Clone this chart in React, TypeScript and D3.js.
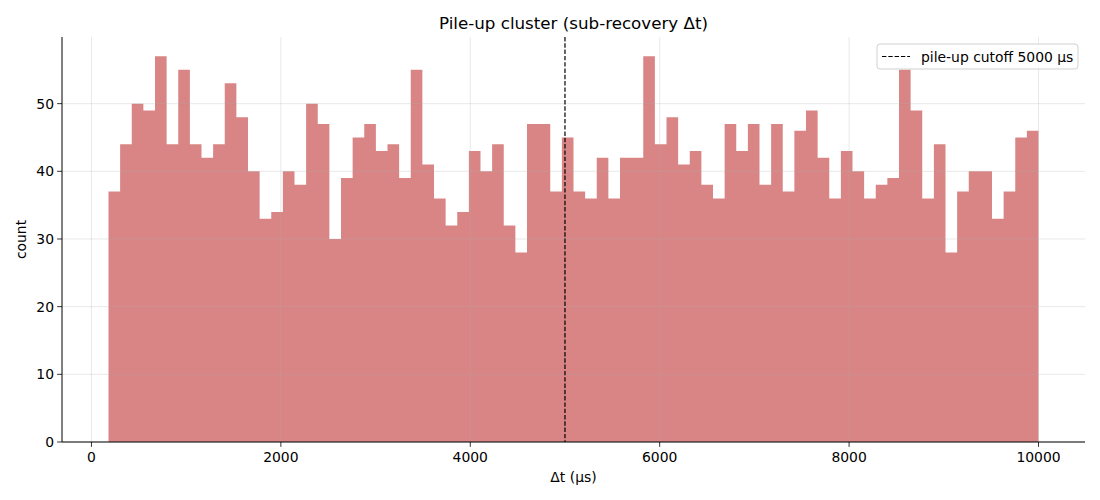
import React from "react";
import * as d3 from "d3";

const counts: number[] = [
  37, 44, 50, 49, 57, 44, 55, 44, 42, 44,
  53, 48, 40, 33, 34, 40, 38, 50, 47, 30,
  39, 45, 47, 43, 44, 39, 55, 41, 36, 32,
  34, 43, 40, 44, 32, 28, 47, 47, 37, 45,
  37, 36, 42, 36, 42, 42, 57, 44, 48, 41,
  43, 38, 36, 47, 43, 47, 38, 47, 37, 46,
  49, 42, 36, 43, 40, 36, 38, 39, 55, 49,
  36, 44, 28, 37, 40, 40, 33, 37, 45, 46,
];
const binStart = 180;
const binEnd = 10000;
const cutoff = 5000;
const xTicks = [0, 2000, 4000, 6000, 8000, 10000];
const yTicks = [0, 10, 20, 30, 40, 50];
const title = "Pile-up cluster (sub-recovery Δt)";
const xLabel = "Δt (μs)";
const yLabel = "count";
const legendLabel = "pile-up cutoff 5000 µs";

const W = 1100;
const H = 500;
const M = { left: 62, right: 1085, top: 37, bottom: 442 };
const FONT = "DejaVu Sans, sans-serif";
const FS = 13.9;

export default function App() {
  const n = counts.length;
  const bw = (binEnd - binStart) / n;
  const span = binEnd - binStart;
  const x = d3
    .scaleLinear()
    .domain([binStart - span * 0.05, binEnd + span * 0.05])
    .range([M.left, M.right]);
  const maxC = d3.max(counts) as number;
  const y = d3.scaleLinear().domain([0, maxC * 1.05]).range([M.bottom, M.top]);

  const p = d3.path();
  p.moveTo(x(binStart), y(0));
  counts.forEach((c, i) => {
    p.lineTo(x(binStart + i * bw), y(c));
    p.lineTo(x(binStart + (i + 1) * bw), y(c));
  });
  p.lineTo(x(binEnd), y(0));
  p.closePath();

  return (
    <div style={{ position: "absolute", left: 0, top: 0 }}>
      <svg width={W} height={H} style={{ display: "block", background: "#fff" }} fontFamily={FONT}>
        <path d={p.toString()} fill="#d98585" />
        {/* grid */}
        {xTicks.map((t) => (
          <line key={"gx" + t} x1={x(t)} x2={x(t)} y1={M.top} y2={M.bottom} stroke="#b0b0b0" strokeOpacity={0.35} strokeWidth={0.8} />
        ))}
        {yTicks.map((t) => (
          <line key={"gy" + t} x1={M.left} x2={M.right} y1={y(t)} y2={y(t)} stroke="#b0b0b0" strokeOpacity={0.35} strokeWidth={0.8} />
        ))}
        {/* cutoff */}
        <line x1={x(cutoff)} x2={x(cutoff)} y1={M.top} y2={M.bottom} stroke="#000" strokeWidth={1.2} strokeDasharray="4.4,1.9" />
        {/* spines */}
        <line x1={M.left} x2={M.left} y1={M.top} y2={M.bottom} stroke="#000" strokeWidth={1} />
        <line x1={M.left} x2={M.right} y1={M.bottom} y2={M.bottom} stroke="#000" strokeWidth={1} />
        {/* x ticks */}
        {xTicks.map((t) => (
          <g key={"xt" + t}>
            <line x1={x(t)} x2={x(t)} y1={M.bottom} y2={M.bottom + 4.9} stroke="#000" strokeWidth={0.8} />
            <text x={x(t)} y={M.bottom + 19.5} textAnchor="middle" fontSize={FS} fill="#000">
              {t}
            </text>
          </g>
        ))}
        {yTicks.map((t) => (
          <g key={"yt" + t}>
            <line x1={M.left - 4.9} x2={M.left} y1={y(t)} y2={y(t)} stroke="#000" strokeWidth={0.8} />
            <text x={M.left - 8} y={y(t) + 5} textAnchor="end" fontSize={FS} fill="#000">
              {t}
            </text>
          </g>
        ))}
        <text x={(M.left + M.right) / 2} y={482} textAnchor="middle" fontSize={FS} fill="#000">
          {xLabel}
        </text>
        <text transform={`translate(26,${(M.top + M.bottom) / 2}) rotate(-90)`} textAnchor="middle" fontSize={FS} fill="#000">
          {yLabel}
        </text>
        <text x={(M.left + M.right) / 2} y={29} textAnchor="middle" fontSize={16.7} fill="#000">
          {title}
        </text>
        {/* legend */}
        <g>
          <rect x={877} y={44} width={201} height={25} rx={3} fill="#fff" fillOpacity={0.8} stroke="#d0d0d0" strokeWidth={1} />
          <line x1={882} x2={910} y1={56.5} y2={56.5} stroke="#000" strokeWidth={1.2} strokeDasharray="4.4,1.9" />
          <text x={921} y={61.5} fontSize={FS} fill="#000">
            {legendLabel}
          </text>
        </g>
      </svg>
    </div>
  );
}
